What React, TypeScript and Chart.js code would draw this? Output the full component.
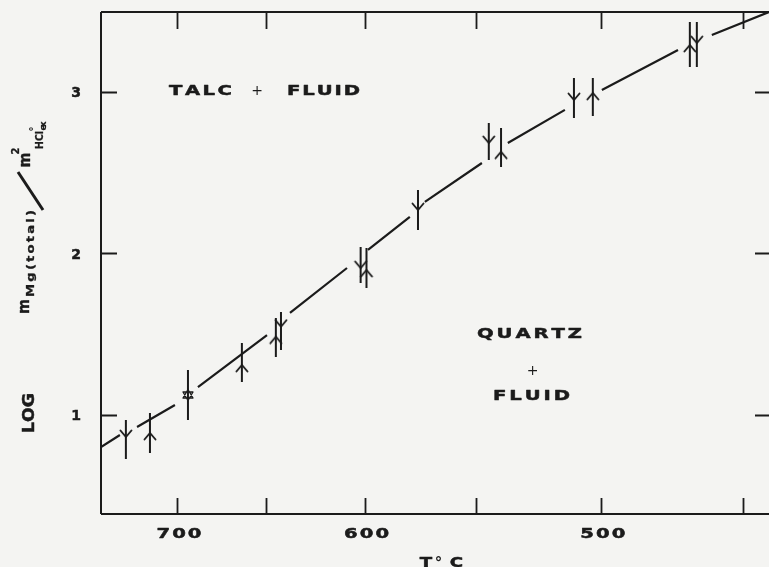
import React, { useEffect, useRef } from "react";
import { Chart, registerables } from "chart.js";

Chart.register(...registerables);

// ---- data ----
// experiment temperatures in °C
const pointT = [731.3, 716.3, 693.5, 662.9, 644.6, 641.9, 601.9, 599.1, 575.2, 544.4, 539.3, 510.2, 503.0, 468.0, 465.6];
// log m ratio at the arrow marker
const pointV = [0.864, 0.889, 1.124, 1.31, 1.485, 1.547, 1.91, 1.898, 2.269, 2.684, 2.63, 2.95, 2.994, 3.291, 3.303];
// uncertainty bar ends
const pointLo = [0.728, 0.765, 0.969, 1.204, 1.359, 1.402, 1.817, 1.786, 2.146, 2.579, 2.536, 2.839, 2.851, 3.155, 3.155];
const pointHi = [0.969, 1.012, 1.279, 1.446, 1.601, 1.638, 2.04, 2.034, 2.393, 2.808, 2.777, 3.087, 3.087, 3.433, 3.433];
// direction of approach to equilibrium
const pointDir = ["down", "up", "both", "up", "up", "down", "down", "up", "down", "down", "up", "down", "up", "up", "down"];

// equilibrium curve (null = gap in the drawn line)
const curveT = [747.3, 735.1, null, 724.3, 701.2, null, 687.7, 649.3, null, 637.2, 608.5, null, 598.4, 578.9, null, 572.1, 547.3, null, 536.5, 513.7, null, 499.6, 472.1, null, 460.5, 441.7];
const curveV = [0.802, 0.876, null, 0.926, 1.062, null, 1.173, 1.495, null, 1.632, 1.91, null, 2.022, 2.226, null, 2.319, 2.56, null, 2.684, 2.889, null, 3.012, 3.26, null, 3.353, 3.495];

const xTickT = [700, 650, 600, 550, 500, 450];
const xLabelT = [700, 600, 500];
const yTicks = [1, 2, 3];
const tLeft = 747.3;
const tRight = 441.7;
const yMin = 0.387;
const yMax = 3.495;

const INK = "#1b1b1b";
const BG = "#f4f4f2";
const FONT = '"DejaVu Sans"';

const inv = (t: number) => 1000 / (t + 273.15);

function spaced(
  ctx: CanvasRenderingContext2D,
  text: string,
  px: number,
  py: number,
  size: number,
  width: number | null,
  sx = 1,
  rot = 0,
  weight = "bold",
  heavy = 0
) {
  ctx.save();
  ctx.translate(px, py);
  if (rot) ctx.rotate(rot);
  ctx.font = `${weight} ${size}px ${FONT}`;
  ctx.textBaseline = "alphabetic";
  ctx.textAlign = "left";
  ctx.fillStyle = INK;
  ctx.strokeStyle = INK;
  ctx.lineJoin = "round";
  const chars = Array.from(text);
  const ws = chars.map((c) => ctx.measureText(c).width * sx);
  const sum = ws.reduce((a, b) => a + b, 0);
  const gap = chars.length > 1 && width != null ? (width - sum) / (chars.length - 1) : 0;
  const total = sum + gap * (chars.length - 1);
  let x = -total / 2;
  chars.forEach((c, i) => {
    ctx.save();
    ctx.translate(x, 0);
    ctx.scale(sx, 1);
    ctx.fillText(c, 0, 0);
    if (heavy > 0) {
      ctx.lineWidth = heavy;
      ctx.strokeText(c, 0, 0);
    }
    ctx.restore();
    x += ws[i] + gap;
  });
  ctx.restore();
}

function marker(kind: string): HTMLCanvasElement {
  const c = document.createElement("canvas");
  c.width = 16;
  c.height = 16;
  const g = c.getContext("2d")!;
  g.strokeStyle = INK;
  g.lineWidth = 1.9;
  g.lineCap = "round";
  g.lineJoin = "round";
  g.beginPath();
  if (kind === "down") {
    g.moveTo(2.5, 1.5);
    g.lineTo(8, 8);
    g.lineTo(13.5, 1.5);
  } else if (kind === "up") {
    g.moveTo(2.5, 14.5);
    g.lineTo(8, 8);
    g.lineTo(13.5, 14.5);
  } else {
    g.lineWidth = 1.3;
    g.moveTo(8, 2.5);
    g.lineTo(13, 11);
    g.lineTo(3, 11);
    g.closePath();
    g.moveTo(8, 13.5);
    g.lineTo(13, 5);
    g.lineTo(3, 5);
    g.closePath();
  }
  g.stroke();
  return c;
}

export default function App() {
  const ref = useRef<HTMLCanvasElement>(null);

  useEffect(() => {
    const canvas = ref.current!;
    const imgs: Record<string, HTMLCanvasElement> = {
      up: marker("up"),
      down: marker("down"),
      both: marker("both"),
    };

    const curveData: { x: number; y: number | null }[] = [];
    let lastX = inv(curveT[0] as number);
    curveT.forEach((t, i) => {
      if (t == null || curveV[i] == null) {
        curveData.push({ x: lastX, y: null });
      } else {
        lastX = inv(t);
        curveData.push({ x: lastX, y: curveV[i] as number });
      }
    });

    const barData: { x: number; y: number | null }[] = [];
    pointT.forEach((t, i) => {
      barData.push({ x: inv(t), y: pointLo[i] });
      barData.push({ x: inv(t), y: pointHi[i] });
      barData.push({ x: inv(t), y: null });
    });

    const markData = pointT.map((t, i) => ({ x: inv(t), y: pointV[i] }));

    const framePlugin = {
      id: "frame",
      beforeDraw(chart: any) {
        const ctx = chart.ctx as CanvasRenderingContext2D;
        ctx.save();
        ctx.fillStyle = BG;
        ctx.fillRect(0, 0, chart.width, chart.height);
        ctx.restore();
      },
      afterDraw(chart: any) {
        const ctx = chart.ctx as CanvasRenderingContext2D;
        const a = chart.chartArea;
        const xs = chart.scales.x;
        const ys = chart.scales.y;
        ctx.save();
        ctx.strokeStyle = INK;
        ctx.lineWidth = 2;
        ctx.lineCap = "butt";
        // frame: left, top, bottom
        ctx.beginPath();
        ctx.moveTo(a.left, a.top);
        ctx.lineTo(a.left, a.bottom);
        ctx.moveTo(a.left, a.top);
        ctx.lineTo(a.right, a.top);
        ctx.moveTo(a.left, a.bottom);
        ctx.lineTo(a.right, a.bottom);
        ctx.stroke();
        // ticks (inward)
        ctx.beginPath();
        xTickT.forEach((t) => {
          const x = Math.round(xs.getPixelForValue(inv(t))) + 0.5;
          ctx.moveTo(x, a.bottom);
          ctx.lineTo(x, a.bottom - 16);
          ctx.moveTo(x, a.top);
          ctx.lineTo(x, a.top + 17);
        });
        yTicks.forEach((v) => {
          const y = Math.round(ys.getPixelForValue(v)) + 0.5;
          ctx.moveTo(a.left, y);
          ctx.lineTo(a.left + 16, y);
          ctx.moveTo(a.right, y);
          ctx.lineTo(a.right - 14, y);
        });
        ctx.lineWidth = 1.8;
        ctx.stroke();
        ctx.restore();

        const W = 1.4;
        // x tick labels
        xLabelT.forEach((t) => {
          const x = xs.getPixelForValue(inv(t)) + 2;
          spaced(ctx, String(t), x, a.bottom + 23.5, 14, 45, W, 0, "bold", 0.5);
        });
        // y tick labels
        yTicks.forEach((v) => {
          const y = ys.getPixelForValue(v);
          spaced(ctx, String(v), 76, y + 5.5, 14, null, 1.0, 0, "bold", 0.5);
        });

        // x title: T°C
        spaced(ctx, "T", 426, 566.5, 14, null, 1.3, 0, "bold", 0.5);
        spaced(ctx, "°", 438.5, 568, 15, null, 1.0);
        spaced(ctx, "C", 456.5, 566.5, 14, null, 1.3, 0, "bold", 0.5);

        // y title (rotated)
        const R = -Math.PI / 2;
        spaced(ctx, "LOG", 33.5, 413, 15, 40, 1.15, R, "bold", 0.5);
        spaced(ctx, "m", 29, 306.5, 16, null, 0.9, R, "bold", 0.4);
        spaced(ctx, "Mg(total)", 33.5, 253.5, 11, 87, 1.2, R, "bold", 0.3);
        ctx.save();
        ctx.strokeStyle = INK;
        ctx.lineWidth = 3;
        ctx.beginPath();
        ctx.moveTo(43, 210);
        ctx.lineTo(18, 172);
        ctx.stroke();
        ctx.restore();
        spaced(ctx, "m", 30, 160, 16, null, 0.9, R, "bold", 0.4);
        spaced(ctx, "2", 18.5, 151, 10, null, 1, R, "bold", 0.3);
        spaced(ctx, "HCl", 43, 140, 11, 18, 0.85, R, "bold", 0.3);
        spaced(ctx, "°", 37, 129, 10, null, 1, R);
        spaced(ctx, "ex", 45.5, 126, 9, 9, 1, R, "bold", 0.2);

        // field labels
        spaced(ctx, "TALC", 200.5, 95, 14, 63, W, 0, "bold", 0.5);
        spaced(ctx, "+", 257, 94.5, 14, null, 1, 0, "normal");
        spaced(ctx, "FLUID", 323.5, 95, 14, 73, W, 0, "bold", 0.5);
        spaced(ctx, "QUARTZ", 529.5, 337.5, 14, 105, W, 0, "bold", 0.5);
        spaced(ctx, "+", 532.5, 374.5, 14, null, 1, 0, "normal");
        spaced(ctx, "FLUID", 531.5, 400, 14, 77, W, 0, "bold", 0.5);
      },
    };

    const chart = new Chart(canvas, {
      type: "line",
      data: {
        datasets: [
          {
            label: "direction",
            data: markData,
            showLine: false,
            pointStyle: pointDir.map((d) => imgs[d]) as any,
            pointRadius: 5,
            borderColor: INK,
            backgroundColor: INK,
          },
          {
            label: "bars",
            data: barData,
            borderColor: INK,
            borderWidth: 2,
            pointRadius: 0,
            spanGaps: false,
            tension: 0,
            borderCapStyle: "butt",
          },
          {
            label: "curve",
            data: curveData,
            borderColor: INK,
            borderWidth: 2.2,
            pointRadius: 0,
            spanGaps: false,
            tension: 0,
            borderCapStyle: "butt",
          },
        ],
      },
      options: {
        animation: false,
        responsive: true,
        maintainAspectRatio: false,
        events: [],
        layout: { autoPadding: false, padding: { left: 101, top: 12, right: 0, bottom: 53 } },
        plugins: { legend: { display: false }, tooltip: { enabled: false } },
        scales: {
          x: { type: "linear", min: inv(tLeft), max: inv(tRight), display: false },
          y: { type: "linear", min: yMin, max: yMax, display: false },
        },
      },
      plugins: [framePlugin],
    } as any);

    return () => chart.destroy();
  }, []);

  return (
    <div
      style={{
        position: "fixed",
        left: 0,
        top: 0,
        width: 769,
        height: 567,
        background: BG,
      }}
    >
      <canvas ref={ref} />
    </div>
  );
}
